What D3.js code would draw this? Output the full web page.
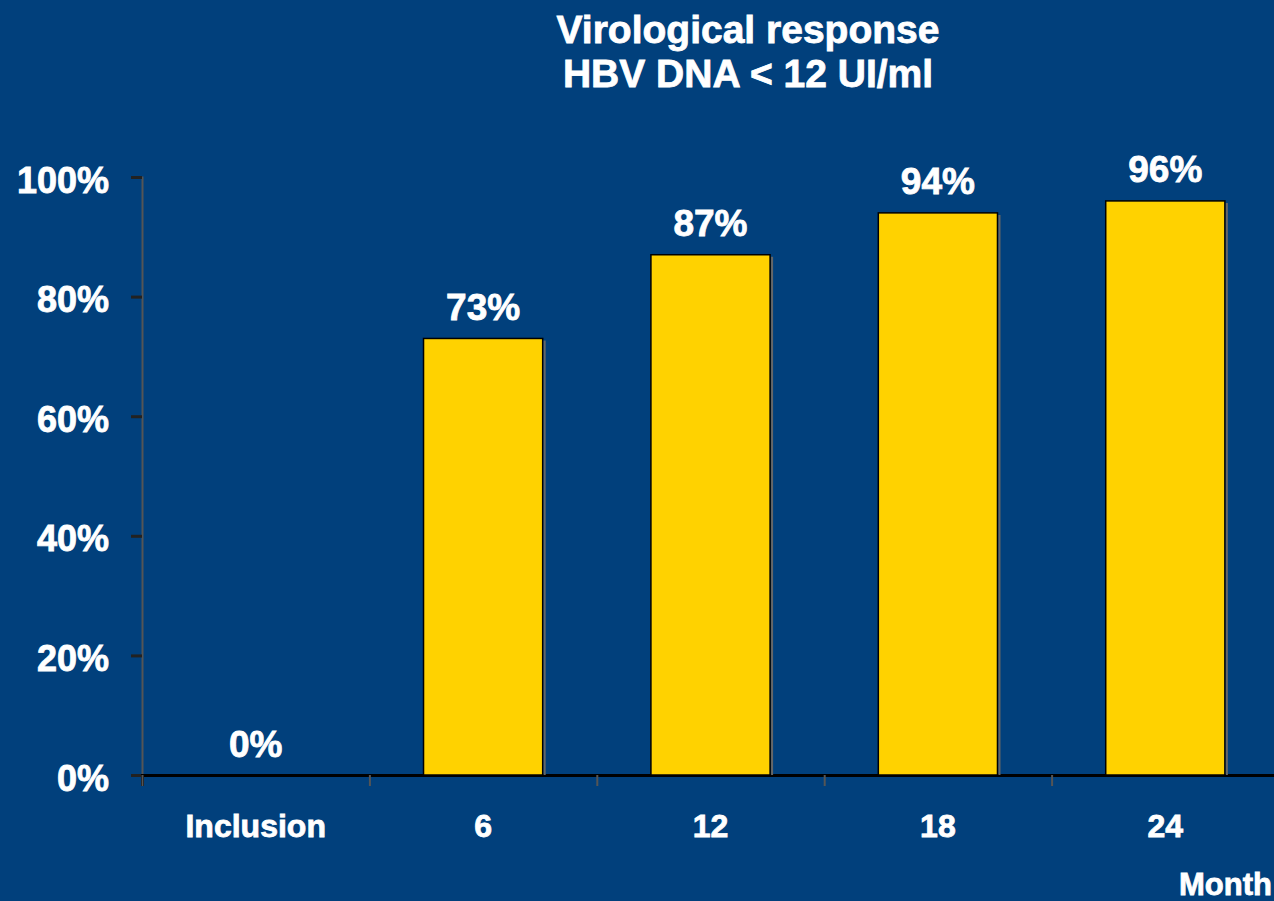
<!DOCTYPE html>
<html><head><meta charset="utf-8">
<script src="https://cdn.jsdelivr.net/npm/d3@7"></script>
<style>html,body{margin:0;padding:0;background:#01407C;}svg{display:block;}</style>
</head><body>
<script>
const categories = ["Inclusion", "6", "12", "18", "24"];
const values = [0, 73, 87, 94, 96];
const yTicks = [0, 20, 40, 60, 80, 100];
const titleLines = ["Virological response", "HBV DNA < 12 UI/ml"];
const xAxisTitle = "Month";

const W = 1274, H = 901;
const font = "'Liberation Sans', Arial, sans-serif";
const svg = d3.select("body").append("svg").attr("width", W).attr("height", H);
svg.append("rect").attr("width", W).attr("height", H).attr("fill", "#01407C");

const x = d3.scaleBand().domain(categories).range([142, 1279]).paddingInner(0.476).paddingOuter(0.238);
const y = d3.scaleLinear().domain([0, 100]).range([775, 177]);

function heavy(sel) {
  return sel.attr("fill", "#fff").attr("stroke", "#fff").attr("stroke-width", 0.8)
    .attr("font-family", font).attr("font-weight", "bold");
}

// y axis
const yAxis = svg.append("g").attr("transform", "translate(142,0)")
  .call(d3.axisLeft(y).tickValues(yTicks).tickSize(11).tickFormat(d => d + "%"));
yAxis.select(".domain").attr("stroke", "#555").attr("stroke-width", 2);
yAxis.selectAll(".tick line").attr("stroke", "#222").attr("stroke-width", 3);
heavy(yAxis.selectAll(".tick text")).attr("font-size", 36).attr("x", -33).attr("dy", null).attr("y", 15);

// x axis
const band = x.step();
const xb = d3.scaleLinear().domain([0, categories.length]).range([142, 142 + band * categories.length]);
const xAxis = svg.append("g").attr("transform", "translate(0,775)")
  .call(d3.axisBottom(xb).tickValues(d3.range(categories.length + 1)).tickSize(11).tickFormat(""));
xAxis.select(".domain").attr("stroke", "#000").attr("stroke-width", 3);
xAxis.selectAll(".tick line").attr("stroke", "#555").attr("stroke-width", 2);

// bars
svg.selectAll("rect.bar").data(values).join("rect").attr("class", "bar")
  .attr("x", (d, i) => x(categories[i]))
  .attr("y", d => y(d))
  .attr("width", x.bandwidth())
  .attr("height", d => y(0) - y(d))
  .attr("fill", d => d > 0 ? "#FFD200" : "none")
  .attr("stroke", d => d > 0 ? "#000" : "none").attr("stroke-width", 1.5);
svg.selectAll("line.shadow").data(values.map((v, i) => ({v, c: categories[i]})).filter(d => d.v > 0))
  .join("line").attr("class", "shadow")
  .attr("x1", d => x(d.c) + x.bandwidth() + 2)
  .attr("x2", d => x(d.c) + x.bandwidth() + 2)
  .attr("y1", d => y(d.v) + 2).attr("y2", y(0))
  .attr("stroke", "#666").attr("stroke-width", 2);

// value labels
heavy(svg.selectAll("text.val").data(values).join("text").attr("class", "val"))
  .attr("x", (d, i) => x(categories[i]) + x.bandwidth() / 2)
  .attr("y", d => y(d) - 18.5)
  .attr("text-anchor", "middle").attr("font-size", 37)
  .text(d => d + "%");

// category labels
heavy(svg.selectAll("text.cat").data(categories).join("text").attr("class", "cat"))
  .attr("x", d => x(d) + x.bandwidth() / 2).attr("y", 837)
  .attr("text-anchor", "middle").attr("font-size", 32)
  .text(d => d);

heavy(svg.append("text")).attr("x", 1272).attr("y", 895).attr("text-anchor", "end")
  .attr("font-size", 31).text(xAxisTitle);

heavy(svg.selectAll("text.title").data(titleLines).join("text").attr("class", "title"))
  .attr("x", 748).attr("y", (d, i) => 43 + i * 44)
  .attr("text-anchor", "middle").attr("font-size", 39)
  .text(d => d);
</script>
</body></html>
